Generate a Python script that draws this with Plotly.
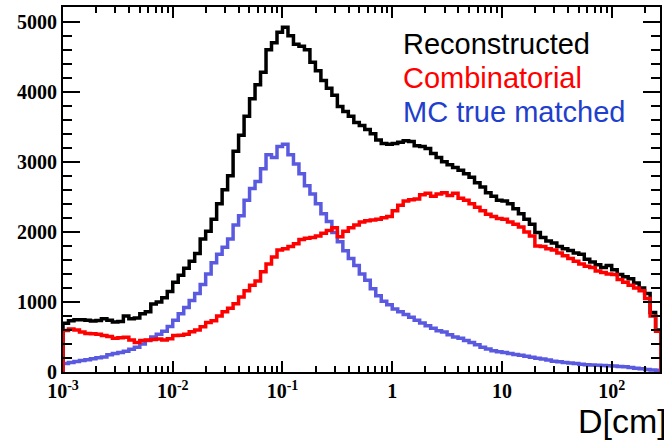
import numpy as np
import plotly.graph_objects as go

# Histogram contents, log10-spaced bins of width 0.05 starting at D = 1e-3 cm
reconstructed = [
    695, 730, 745, 746, 740, 727, 735, 760, 740, 713,
    720, 800, 760, 770, 830, 860, 970, 1000, 1060, 1150,
    1280, 1380, 1480, 1580, 1690, 1900, 2010, 2180, 2400, 2600,
    2800, 3150, 3380, 3650, 3900, 4100, 4280, 4600, 4700, 4850,
    4920, 4800, 4680, 4650, 4600, 4420, 4300, 4160, 4050, 3950,
    3790, 3720, 3650, 3560, 3520, 3460, 3400, 3310, 3260, 3250,
    3260, 3280, 3300, 3290, 3230, 3220, 3190, 3120, 3060, 3000,
    2960, 2920, 2880, 2830, 2780, 2700, 2640, 2560, 2510, 2450,
    2440, 2400, 2330, 2260, 2180, 2110, 1990, 1920, 1870, 1840,
    1790, 1760, 1735, 1700, 1680, 1610, 1570, 1530, 1490, 1520,
    1460, 1390, 1360, 1330, 1270, 1200, 1120, 850, 600,
]
combinatorial = [
    594, 615, 600, 570, 550, 546, 540, 520, 505, 480,
    490, 495, 455, 420, 450, 455, 465, 470, 455, 475,
    520, 525, 540, 575, 600, 645, 705, 730, 800, 860,
    910, 975, 1070, 1160, 1240, 1300, 1430, 1540, 1640, 1740,
    1760, 1790, 1830, 1890, 1910, 1920, 1940, 1980, 2020, 2060,
    1930, 2010, 2060, 2100, 2140, 2160, 2170, 2180, 2200, 2220,
    2300, 2380, 2440, 2460, 2470, 2530, 2550, 2510, 2540, 2560,
    2520, 2550, 2480, 2450, 2400, 2350, 2300, 2250, 2220, 2190,
    2180, 2140, 2110, 2070, 2000, 1940, 1800, 1790, 1760, 1740,
    1700, 1660, 1620, 1580, 1540, 1510, 1490, 1440, 1420, 1400,
    1390, 1320, 1280, 1240, 1200, 1160, 1050, 800, 580,
]
mc_true_matched = [
    120, 135, 150, 165, 175, 190, 205, 215, 245, 265,
    280, 295, 325, 355, 400, 450, 500, 540, 580, 650,
    740, 830, 920, 1020, 1120, 1250, 1400, 1560, 1680, 1780,
    1900, 2100, 2230, 2450, 2620, 2720, 2900, 3100, 3060, 3220,
    3250, 3100, 2970, 2830, 2660, 2540, 2400, 2260, 2150, 1990,
    1860, 1730, 1620, 1520, 1400, 1310, 1190, 1090, 1010, 960,
    900, 860, 820, 780, 740, 700, 660, 625, 590, 570,
    530, 500, 480, 450, 420, 390, 355, 330, 305, 290,
    280, 265, 250, 238, 225, 210, 195, 185, 170, 155,
    145, 135, 128, 120, 112, 105, 100, 95, 92, 90,
    85, 80, 75, 65, 55, 45, 35, 30, 25,
]

series_names = ["Reconstructed", "Combinatorial", "MC true matched"]
x_tick_values = [1e-3, 1e-2, 1e-1, 1, 10, 100]
x_tick_labels = ["10<sup>-3</sup>", "10<sup>-2</sup>", "10<sup>-1</sup>", "1", "10", "10<sup>2</sup>"]

LOG_LO = -3.0
BIN_W = 0.05
X_LOG_RANGE = [-3.0, 2.44]
Y_MAX = 5210

n_bins = len(reconstructed)
edges = 10 ** (LOG_LO + BIN_W * np.arange(n_bins + 1))


def step_outline(vals):
    """ROOT-style histogram outline: rises from zero at the first edge, falls back at the last."""
    xs = [edges[0]] + list(edges[:-1]) + [edges[-1], edges[-1]]
    ys = [0] + list(vals) + [vals[-1], 0]
    return xs, ys


LINE_COLORS = {"Reconstructed": "#000000", "Combinatorial": "#ff0000", "MC true matched": "#5a5ae0"}
TEXT_COLORS = {"Reconstructed": "#000000", "Combinatorial": "#ff0000", "MC true matched": "#1f40cc"}
values = {"Reconstructed": reconstructed, "Combinatorial": combinatorial, "MC true matched": mc_true_matched}

fig = go.Figure()
for name in ["Reconstructed", "MC true matched", "Combinatorial"]:
    xs, ys = step_outline(values[name])
    fig.add_trace(go.Scatter(
        x=xs, y=ys, mode="lines", line_shape="hv", name=name,
        line=dict(color=LINE_COLORS[name], width=3.5), showlegend=False,
    ))

minor_x = [k * 10.0 ** d for d in range(-3, 3) for k in range(2, 10) if k * 10.0 ** d <= 10 ** X_LOG_RANGE[1]]

tick_font = dict(family="Liberation Serif", size=20, color="black", weight="bold")

fig.update_xaxes(
    type="log", range=X_LOG_RANGE, showgrid=False, zeroline=False,
    showline=True, linecolor="black", linewidth=2, mirror="ticks",
    ticks="inside", ticklen=11, tickwidth=2, tickcolor="black",
    tickmode="array", tickvals=x_tick_values, ticktext=x_tick_labels, tickfont=tick_font,
    minor=dict(ticks="inside", ticklen=6, tickwidth=2, tickcolor="black",
               tickmode="array", tickvals=minor_x, showgrid=False),
)
fig.update_yaxes(
    range=[0, Y_MAX], showgrid=False, zeroline=False,
    showline=True, linecolor="black", linewidth=2, mirror="ticks",
    ticks="inside", ticklen=17, tickwidth=2, tickcolor="black",
    tick0=0, dtick=1000, tickfont=tick_font,
    minor=dict(ticks="inside", ticklen=9, tickwidth=2, tickcolor="black", dtick=200, showgrid=False),
)

# Legend text block, top right
for i, name in enumerate(series_names):
    fig.add_annotation(
        text=name, xref="paper", yref="paper", x=(402 - 63) / 599, y=1 - (37 + 34 * i) / 365,
        xanchor="left", yanchor="middle", showarrow=False,
        font=dict(family="Liberation Sans", size=29, color=TEXT_COLORS[name]),
    )

# Axis title at the lower right corner
fig.add_annotation(
    text="D[cm]", xref="paper", yref="paper", x=(578 - 63) / 599, y=-(421 - 372) / 365,
    xanchor="left", yanchor="middle", showarrow=False,
    font=dict(family="Liberation Sans", size=34, color="black"),
)

fig.update_layout(
    width=664, height=442,
    margin=dict(l=63, r=2, t=7, b=70),
    paper_bgcolor="white", plot_bgcolor="white",
)

fig.write_html("out.html")
